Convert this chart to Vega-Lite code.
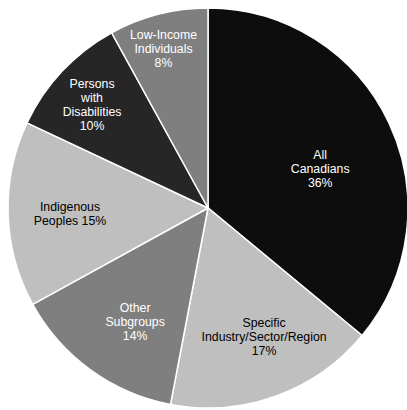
{
  "$schema": "https://vega.github.io/schema/vega-lite/v6.json",
  "width": 400,
  "height": 400,
  "autosize": "none",
  "padding": {"left": 8, "top": 8, "right": 0, "bottom": 0},
  "background": "white",
  "view": {"stroke": null},
  "data": {
    "values": [
      {"idx": 1, "category": "All Canadians", "share": 36, "label": "All\nCanadians\n36%"},
      {"idx": 2, "category": "Specific Industry/Sector/Region", "share": 17, "label": "Specific\nIndustry/Sector/Region\n17%"},
      {"idx": 3, "category": "Other Subgroups", "share": 14, "label": "Other\nSubgroups\n14%"},
      {"idx": 4, "category": "Indigenous Peoples", "share": 15, "label": "Indigenous\nPeoples 15%"},
      {"idx": 5, "category": "Persons with Disabilities", "share": 10, "label": "Persons\nwith\nDisabilities\n10%"},
      {"idx": 6, "category": "Low-Income Individuals", "share": 8, "label": "Low-Income\nIndividuals\n8%"}
    ]
  },
  "encoding": {
    "theta": {"field": "share", "type": "quantitative", "stack": true},
    "order": {"field": "idx", "type": "quantitative"},
    "color": {
      "field": "category",
      "type": "nominal",
      "scale": {
        "domain": ["All Canadians", "Specific Industry/Sector/Region", "Other Subgroups", "Indigenous Peoples", "Persons with Disabilities", "Low-Income Individuals"],
        "range": ["#0d0d0d", "#bfbfbf", "#7f7f7f", "#bfbfbf", "#262626", "#7f7f7f"]
      },
      "legend": null
    }
  },
  "layer": [
    {
      "mark": {"type": "arc", "outerRadius": 200, "stroke": "white", "strokeWidth": 1.5}
    },
    {
      "mark": {"type": "text", "radius": 124, "font": "Liberation Sans", "fontSize": 12.3, "lineHeight": 14, "lineBreak": "\n", "align": "center", "baseline": "middle"},
      "encoding": {
        "text": {"condition": {"test": "datum.idx === 1 || datum.idx === 3", "field": "label"}, "value": ""},
        "fill": {"value": "#ffffff"}
      }
    },
    {
      "mark": {"type": "text", "radius": 128, "thetaOffset": -0.108, "font": "Liberation Sans", "fontSize": 12.3, "lineHeight": 14, "lineBreak": "\n", "align": "center", "baseline": "middle"},
      "encoding": {
        "text": {"condition": {"test": "datum.idx === 2", "field": "label"}, "value": ""},
        "fill": {"value": "#000000"}
      }
    },
    {
      "mark": {"type": "text", "radius": 138, "thetaOffset": 0.038, "font": "Liberation Sans", "fontSize": 12.3, "lineHeight": 14, "lineBreak": "\n", "align": "center", "baseline": "middle"},
      "encoding": {
        "text": {"condition": {"test": "datum.idx === 4", "field": "label"}, "value": ""},
        "fill": {"value": "#000000"}
      }
    },
    {
      "mark": {"type": "text", "radius": 170, "thetaOffset": 0.066, "font": "Liberation Sans", "fontSize": 12.3, "lineHeight": 14, "lineBreak": "\n", "align": "center", "baseline": "middle"},
      "encoding": {
        "text": {"condition": {"test": "datum.idx === 5", "field": "label"}, "value": ""},
        "fill": {"value": "#ffffff"}
      }
    },
    {
      "mark": {"type": "text", "radius": 179, "font": "Liberation Sans", "fontSize": 12.3, "lineHeight": 14, "lineBreak": "\n", "align": "center", "baseline": "middle"},
      "encoding": {
        "text": {"condition": {"test": "datum.idx === 6", "field": "label"}, "value": ""},
        "fill": {"value": "#ffffff"}
      }
    }
  ]
}
